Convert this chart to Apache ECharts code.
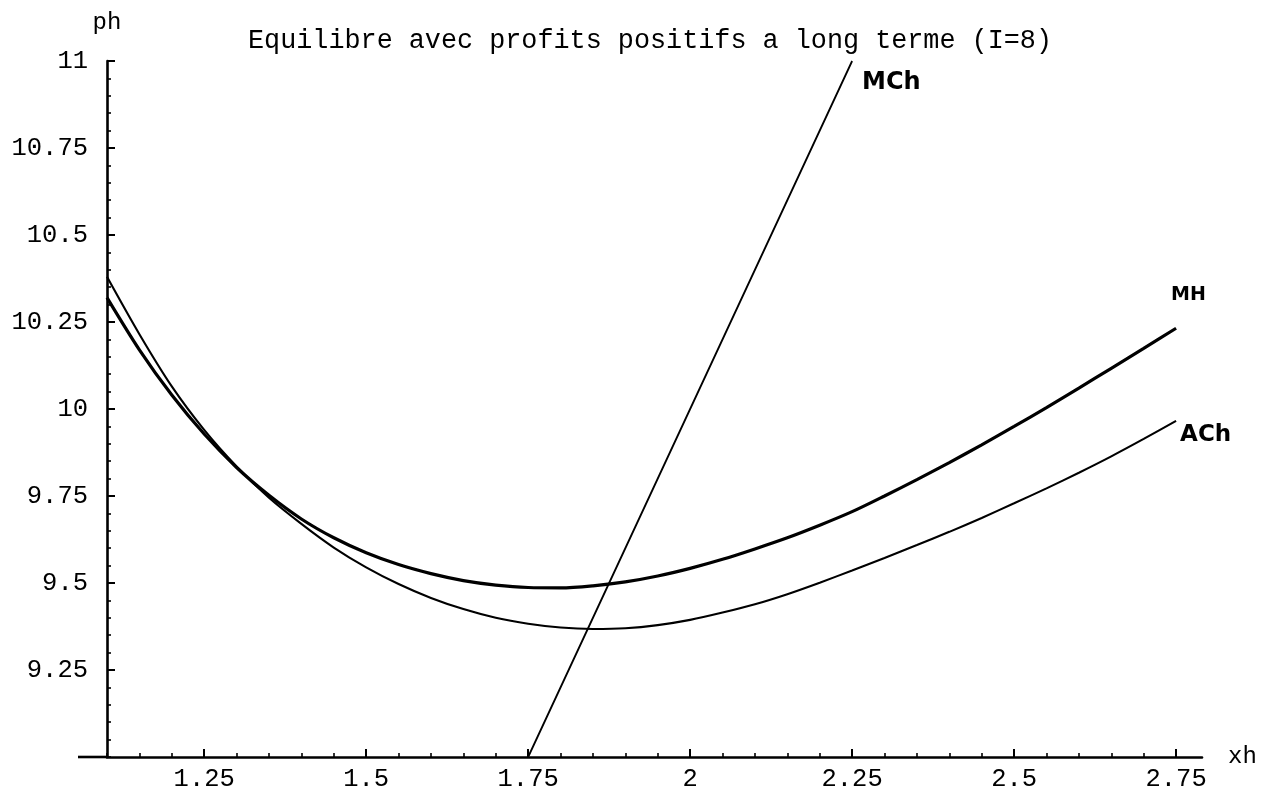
<!DOCTYPE html>
<html><head><meta charset="utf-8">
<script src="https://cdn.jsdelivr.net/npm/echarts@6/dist/echarts.min.js"></script>
<style>html,body{margin:0;padding:0;background:#fff}#c{width:1279px;height:795px}</style>
</head><body><div id="c"></div>
<script>
// ---- data ----
const chartTitle = 'Equilibre avec profits positifs a long terme (I=8)';
const xName = 'xh';
const yName = 'ph';
const xTickValues = [1.25, 1.5, 1.75, 2, 2.25, 2.5, 2.75];
const xTickLabels = ['1.25', '1.5', '1.75', '2', '2.25', '2.5', '2.75'];
const yTickValues = [9.25, 9.5, 9.75, 10, 10.25, 10.5, 10.75, 11];
const yTickLabels = ['9.25', '9.5', '9.75', '10', '10.25', '10.5', '10.75', '11'];
const seriesNames = ['MH', 'ACh', 'MCh'];

const curveX = [1.10, 1.15, 1.20, 1.25, 1.30, 1.35, 1.40, 1.45, 1.50, 1.55, 1.60, 1.65, 1.70, 1.75, 1.80, 1.85, 1.90,
                1.95, 2.00, 2.05, 2.10, 2.15, 2.20, 2.25, 2.30, 2.35, 2.40, 2.45, 2.50, 2.55, 2.60, 2.65, 2.70, 2.75];
const mhY = [10.32, 10.17, 10.04, 9.928, 9.832, 9.752, 9.684, 9.63, 9.587, 9.553, 9.527, 9.507, 9.494, 9.487, 9.486, 9.492, 9.503,
             9.52, 9.542, 9.568, 9.598, 9.63, 9.666, 9.705, 9.75, 9.797, 9.846, 9.897, 9.95, 10.004, 10.06, 10.117, 10.174, 10.232];
const achY = [10.38, 10.215, 10.065, 9.94, 9.835, 9.745, 9.67, 9.602, 9.545, 9.497, 9.457, 9.425, 9.40, 9.383, 9.372, 9.368, 9.37,
              9.379, 9.394, 9.415, 9.439, 9.468, 9.501, 9.536, 9.572, 9.609, 9.647, 9.687, 9.729, 9.772, 9.817, 9.864, 9.914, 9.966];

const mchX = [1.75, 2.0, 2.25];
const mchY = [9.0, 10.0, 11.0];

// ---- chart ----
const zip = (xs, ys) => xs.map((x, i) => [x, ys[i]]);
const xMinor = [], yMinor = [];
for (let i = 22; i <= 55; i++) xMinor.push(+(i * 0.05).toFixed(2));
for (let i = 180; i <= 220; i++) yMinor.push(+(i * 0.05).toFixed(2));

const FONT = 'Liberation Mono';
const HAND = 'DejaVu Sans';
const chart = echarts.init(document.getElementById('c'), null, {renderer: 'canvas'});
const axisLineStyle = {color: '#000', width: 2.6};
const pick = (vals, labels) => v => { const i = vals.findIndex(t => Math.abs(t - v) < 1e-6); return i >= 0 ? labels[i] : ''; };

chart.setOption({
  animation: false,
  backgroundColor: '#fff',
  title: {
    text: chartTitle, left: 645, top: 22, textAlign: 'center',
    textStyle: {fontFamily: FONT, fontSize: 26.8, fontWeight: 'normal', color: '#000'}
  },
  grid: {left: 107, right: 77, top: 61, bottom: 38, containLabel: false},
  xAxis: [{
    type: 'value', min: 1.1, max: 2.79, position: 'bottom',
    name: xName, nameLocation: 'end', nameGap: 26,
    nameTextStyle: {fontFamily: FONT, fontSize: 24, color: '#000', verticalAlign: 'middle', padding: [14, 0, 0, 0]},
    axisLine: {show: true, onZero: false, lineStyle: axisLineStyle},
    axisTick: {show: true, inside: true, length: 8, customValues: xTickValues, lineStyle: {color: '#000', width: 2}},
    axisLabel: {show: true, customValues: xTickValues, margin: 9, formatter: pick(xTickValues, xTickLabels),
      fontFamily: FONT, fontSize: 25.5, color: '#000'},
    splitLine: {show: false}
  }, {
    type: 'value', min: 1.1, max: 2.79, position: 'bottom', offset: 0,
    axisLine: {show: false, onZero: false},
    axisTick: {show: true, inside: true, length: 4, customValues: xMinor, lineStyle: {color: '#000', width: 1.6}},
    axisLabel: {show: false}, splitLine: {show: false}
  }],
  yAxis: [{
    type: 'value', min: 9, max: 11, position: 'left',
    name: yName, nameLocation: 'end', nameGap: 26,
    nameTextStyle: {fontFamily: FONT, fontSize: 24, color: '#000', align: 'center'},
    axisLine: {show: true, onZero: false, lineStyle: axisLineStyle},
    axisTick: {show: true, inside: true, length: 8, customValues: yTickValues, lineStyle: {color: '#000', width: 2}},
    axisLabel: {show: true, customValues: yTickValues, margin: 19, formatter: pick(yTickValues, yTickLabels),
      fontFamily: FONT, fontSize: 25.5, color: '#000'},
    splitLine: {show: false}
  }, {
    type: 'value', min: 9, max: 11, position: 'left', offset: 0,
    axisLine: {show: false, onZero: false},
    axisTick: {show: true, inside: true, length: 4, customValues: yMinor, lineStyle: {color: '#000', width: 1.6}},
    axisLabel: {show: false}, splitLine: {show: false}
  }],
  series: [{
    name: seriesNames[0], type: 'line', data: zip(curveX, mhY), showSymbol: false, smooth: 0.3,
    lineStyle: {color: '#000', width: 3.2},
    endLabel: {show: true, formatter: seriesNames[0], offset: [-13, -33],
      fontFamily: HAND, fontWeight: 'bold', fontSize: 19, color: '#000'}
  }, {
    name: seriesNames[1], type: 'line', data: zip(curveX, achY), showSymbol: false, smooth: 0.3,
    lineStyle: {color: '#000', width: 2.1},
    endLabel: {show: true, formatter: seriesNames[1], offset: [-4, 14],
      fontFamily: HAND, fontWeight: 'bold', fontSize: 23, color: '#000'}
  }, {
    name: seriesNames[2], type: 'line', data: zip(mchX, mchY), showSymbol: false,
    lineStyle: {color: '#000', width: 1.8},
    endLabel: {show: true, formatter: seriesNames[2], offset: [2, 22],
      fontFamily: HAND, fontWeight: 'bold', fontSize: 24, color: '#000'}
  }]
});

// extend the x axis line a little to the left of the y axis, as in the original
const o = chart.convertToPixel({xAxisIndex: 0, yAxisIndex: 0}, [1.1, 9]);
chart.setOption({graphic: [{type: 'line', shape: {x1: o[0] - 29, y1: o[1], x2: o[0], y2: o[1]},
  style: {stroke: '#000', lineWidth: 2.6}, silent: true}]});
</script></body></html>
